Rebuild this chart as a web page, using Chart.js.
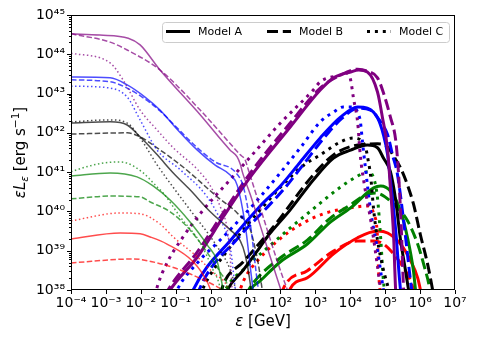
<!DOCTYPE html>
<html lang="en">
<head>
  <meta charset="UTF-8">
  <title>Spectra</title>
  <script src="https://cdn.jsdelivr.net/npm/chart.js"></script>
</head>
<style>
  html, body { margin: 0; padding: 0; background: #fff; }
  .chart-container { width: 478px; height: 342px; }
</style>
<body>
  <div class="chart-container">
    <canvas id="chartCanvas" width="478" height="342"></canvas>
  </div>

  <script>
    // decades shown on the axes
    const xDecades = [-4, -3, -2, -1, 0, 1, 2, 3, 4, 5, 6, 7];
    const yDecades = [38, 39, 40, 41, 42, 43, 44, 45];
    const modelLabels = ['Model A', 'Model B', 'Model C'];

    // curves as [log10 E/GeV, log10 eL/(erg/s)]
    // low energy part (thin lines)
    const purpleA_low = [[-4,44.52],[-3.17,44.49],[-2.36,44.41],[-2.02,44.24],[-1.45,43.60],[-0.30,42.46],[0.56,41.56],[0.76,41.39],[0.85,41.20],[0.91,41.0],[1.14,40.42],[1.57,39.22],[2.05,37.9]];
    const purpleB_low = [[-4,44.52],[-2.88,44.31],[-2.39,44.11],[-1.45,43.60],[-0.30,42.58],[0.85,41.44],[0.99,41.31],[1.08,41.06],[2.2,38.0],[2.25,37.9]];
    const purpleC_low = [[-4,44.03],[-2.88,43.78],[-2.51,43.35],[-2.02,42.58],[-1.53,42.07],[-1.07,41.62],[-0.38,41.07],[-0.01,40.65],[0.28,40.11],[0.48,39.53],[0.56,38.85],[0.62,37.9]];
    const blueA_low = [[-4,43.42],[-2.88,43.40],[-2.39,43.22],[-1.88,42.91],[-1.45,42.58],[-1.02,42.15],[-0.38,41.56],[0.13,41.18],[0.56,40.93],[0.76,40.67],[0.99,39.66],[1.22,38.0],[1.25,37.88]];
    const blueB_low = [[-4,43.35],[-2.88,43.30],[-2.39,43.14],[-1.88,42.86],[-1.45,42.56],[-1.02,42.18],[-0.38,41.62],[0.13,41.26],[0.71,41.0],[0.94,40.62],[1.14,39.66],[1.37,38.0],[1.40,37.88]];
    const blueC_low = [[-4,43.19],[-2.88,43.14],[-2.39,42.91],[-2.02,42.33],[-1.53,41.56],[-0.87,41.06],[-0.10,40.37],[0.28,39.78],[0.56,39.10],[0.71,38.0],[0.73,37.88]];
    const blackA_low = [[-4,42.25],[-2.88,42.28],[-2.39,42.20],[-2.02,41.90],[-1.53,41.44],[-1.07,40.98],[-0.59,40.55],[-0.01,39.99],[0.56,39.53],[0.85,39.25],[0.99,38.89],[1.14,38.13],[1.17,37.88]];
    const blackB_low = [[-4,41.97],[-2.39,42.0],[-2.02,41.90],[-1.65,41.69],[-0.79,41.13],[0.19,40.37],[0.76,39.96],[1.14,39.53],[1.22,39.27],[1.37,38.64],[1.48,38.0],[1.51,37.85]];
    const blackC_low = [[-4,42.28],[-2.88,42.33],[-2.39,42.25],[-2.02,41.87],[-1.53,41.18],[-1.02,40.55],[-0.59,40.04],[0.19,39.10],[0.56,38.51],[0.71,38.0],[0.73,37.85]];
    const greenA_low = [[-4,40.90],[-2.88,40.98],[-2.11,40.88],[-1.65,40.65],[-1.16,40.29],[-0.59,39.73],[-0.10,39.15],[0.19,38.72],[0.36,38.0],[0.39,37.85]];
    const greenB_low = [[-4,40.32],[-2.88,40.39],[-2.02,40.37],[-1.73,40.24],[-1.16,39.99],[-0.59,39.53],[-0.01,38.84],[0.28,38.44],[0.51,38.0],[0.53,37.85]];
    const greenC_low = [[-4,41.01],[-3.37,41.18],[-2.68,41.26],[-2.39,41.23],[-1.93,40.98],[-1.53,40.62],[-1.36,40.47],[-0.87,39.86],[-0.30,39.20],[0.07,38.51],[0.28,38.0],[0.30,37.85]];
    const redA_low = [[-4,39.30],[-2.59,39.45],[-2.02,39.43],[-1.73,39.35],[-1.25,39.17],[-0.50,38.72],[-0.10,38.21],[0.05,37.88]];
    const redB_low = [[-4,38.69],[-2.22,38.79],[-1.53,38.69],[-0.87,38.51],[-0.21,38.26],[0.19,38.08],[0.42,37.95],[0.51,37.85]];
    const redC_low = [[-4,39.76],[-2.59,39.96],[-2.02,39.94],[-1.45,39.68],[-1.07,39.35],[-0.38,38.84],[0.07,38.44],[0.48,38.08],[0.56,37.85]];

    // high energy part (thick lines)
    const purpleA_high = [[-1.25,37.85],[-1.16,38.0],[-0.38,38.84],[0.36,39.86],[1.14,40.88],[2.28,42.15],[3.14,43.09],[3.52,43.40],[4.01,43.55],[4.24,43.60],[4.49,43.55],[4.78,43.04],[4.92,42.40],[5.07,41.56],[5.15,40.6],[5.24,39.4],[5.30,38.0],[5.33,37.85]];
    const purpleB_high = [[-1.30,37.85],[-1.22,38.0],[-0.38,38.97],[0.36,39.96],[1.14,40.98],[2.28,42.25],[3.14,43.14],[3.72,43.47],[4.21,43.62],[4.49,43.57],[4.78,43.40],[4.95,43.02],[5.15,42.40],[5.30,41.82],[5.38,41.0],[5.46,39.6],[5.53,38.0],[5.56,37.85]];
    const purpleC_high = [[-1.59,37.85],[-1.53,38.08],[-1.25,38.69],[-0.79,39.35],[-0.21,40.04],[0.48,40.73],[1.14,41.39],[2.0,42.25],[2.94,43.09],[3.14,43.30],[3.72,43.47],[3.92,43.52],[4.01,43.35],[4.09,42.89],[4.21,42.28],[4.29,41.4],[4.40,40.7],[4.60,39.7],[4.78,38.6],[4.87,38.0],[4.90,37.85]];
    const blueA_high = [[-0.56,37.85],[-0.50,38.0],[0.65,39.35],[1.42,40.14],[2.0,40.65],[2.57,41.26],[3.14,41.87],[3.72,42.40],[4.21,42.66],[4.49,42.63],[4.78,42.38],[4.95,41.95],[5.07,41.44],[5.15,40.80],[5.30,39.53],[5.44,38.0],[5.47,37.85]];
    const blueB_high = [[-0.38,37.85],[-0.33,38.0],[0.79,39.33],[1.51,40.0],[2.08,40.55],[2.66,41.20],[3.20,41.82],[3.75,42.36],[4.24,42.63],[4.58,42.58],[4.87,42.28],[5.07,41.95],[5.21,41.44],[5.35,40.95],[5.55,39.6],[5.76,38.0],[5.79,37.85]];
    const blueC_high = [[-1.02,37.85],[-0.96,38.0],[-0.38,38.69],[0.36,39.35],[1.34,40.29],[2.57,41.62],[3.14,42.28],[3.52,42.53],[3.80,42.66],[4.09,42.66],[4.24,42.46],[4.29,42.28],[4.35,41.77],[4.44,41.06],[4.58,40.04],[4.78,39.02],[4.95,38.0],[4.98,37.85]];
    const blackA_high = [[0.42,37.85],[0.48,38.0],[0.94,38.51],[1.42,39.10],[1.62,39.35],[2.28,40.04],[2.94,40.80],[3.52,41.36],[4.01,41.56],[4.49,41.69],[4.78,41.62],[4.95,41.36],[5.15,41.01],[5.30,40.29],[5.44,39.27],[5.58,38.51],[5.67,38.0],[5.70,37.85]];
    const blackB_high = [[0.28,37.85],[0.36,38.13],[0.94,38.72],[1.80,39.61],[2.94,40.93],[3.52,41.44],[4.09,41.67],[4.78,41.72],[5.07,41.64],[5.24,41.41],[5.44,41.11],[5.64,40.67],[5.81,40.19],[6.01,39.40],[6.22,38.64],[6.36,38.0],[6.39,37.85]];
    const blackC_high = [[-0.30,37.85],[-0.24,38.0],[0.56,39.10],[1.42,40.04],[2.57,41.11],[3.14,41.44],[3.72,41.77],[4.09,41.87],[4.29,41.82],[4.44,41.62],[4.52,41.26],[4.58,40.93],[4.67,40.04],[4.78,39.27],[4.95,38.51],[5.10,38.0],[5.13,37.85]];
    const greenA_high = [[1.08,37.85],[1.14,38.0],[1.42,38.23],[2.0,38.72],[2.77,39.17],[3.43,39.73],[4.01,40.09],[4.67,40.60],[4.87,40.65],[5.15,40.52],[5.44,40.01],[5.64,39.33],[5.81,38.49],[5.87,38.0],[5.90,37.85]];
    const greenB_high = [[0.99,37.85],[1.22,38.18],[2.0,38.82],[2.77,39.27],[3.43,39.83],[4.01,40.17],[4.44,40.42],[4.72,40.47],[5.24,40.19],[5.64,39.76],[5.93,39.17],[6.12,38.6],[6.28,38.0],[6.30,37.85]];
    const greenC_high = [[0.36,37.85],[0.42,38.0],[0.99,38.56],[1.62,39.07],[2.28,39.58],[2.77,39.94],[3.72,40.62],[4.21,40.90],[4.49,41.01],[4.67,40.85],[4.78,40.34],[4.87,39.33],[4.95,38.23],[5.01,37.85]];
    const redA_high = [[2.23,37.85],[2.28,38.03],[2.77,38.31],[3.52,38.92],[4.21,39.33],[4.78,39.50],[5.07,39.45],[5.44,39.17],[5.73,38.74],[5.93,38.31],[6.01,38.0],[6.04,37.85]];
    const redB_high = [[2.03,37.85],[2.08,38.03],[2.77,38.49],[3.52,38.99],[4.21,39.25],[4.67,39.25],[4.95,39.17],[5.24,38.92],[5.53,38.56],[5.73,38.23],[5.81,38.0],[5.84,37.85]];
    const redC_high = [[0.79,37.85],[0.94,38.23],[1.42,38.82],[2.28,39.50],[3.23,39.94],[4.01,40.09],[4.49,40.14],[4.67,39.94],[4.78,39.33],[4.81,38.49],[4.87,37.85]];

    const colors = {
      purple: [128, 0, 128],
      blue: [0, 0, 255],
      black: [0, 0, 0],
      green: [0, 128, 0],
      red: [255, 0, 0]
    };
    const thinDash = { A: [], B: [5.5, 2.4], C: [1.5, 2.5] };
    const thickDash = { A: [], B: [11, 4.8], C: [3, 4.9] };

    const curves = {
      purple: { A: [purpleA_low, purpleA_high], B: [purpleB_low, purpleB_high], C: [purpleC_low, purpleC_high] },
      blue:   { A: [blueA_low, blueA_high],     B: [blueB_low, blueB_high],     C: [blueC_low, blueC_high] },
      black:  { A: [blackA_low, blackA_high],   B: [blackB_low, blackB_high],   C: [blackC_low, blackC_high] },
      green:  { A: [greenA_low, greenA_high],   B: [greenB_low, greenB_high],   C: [greenC_low, greenC_high] },
      red:    { A: [redA_low, redA_high],       B: [redB_low, redB_high],       C: [redC_low, redC_high] }
    };

    function pts(arr) {
      return arr.map(p => ({ x: Math.pow(10, p[0]), y: Math.pow(10, p[1]) }));
    }

    const datasets = [];
    // thin lines first, thick on top
    ['low', 'high'].forEach((part, k) => {
      Object.keys(curves).forEach(c => {
        ['A', 'B', 'C'].forEach(m => {
          const rgb = colors[c];
          datasets.push({
            data: pts(curves[c][m][k]),
            borderColor: part === 'low' ? `rgba(${rgb[0]},${rgb[1]},${rgb[2]},0.7)` : `rgb(${rgb[0]},${rgb[1]},${rgb[2]})`,
            borderWidth: part === 'low' ? 1.5 : 3,
            borderDash: part === 'low' ? thinDash[m] : thickDash[m],
            borderCapStyle: 'butt',
            showLine: true,
            pointRadius: 0,
            fill: false,
            cubicInterpolationMode: 'monotone',
            clip: 0
          });
        });
      });
    });

    const sup = { '0': '⁰', '1': '¹', '2': '²', '3': '³', '4': '⁴', '5': '⁵', '6': '⁶', '7': '⁷', '8': '⁸', '9': '⁹', '-': '⁻' };
    function powLabel(v) {
      const l = Math.log10(v);
      if (Math.abs(l - Math.round(l)) > 1e-6) return '';
      return '10' + String(Math.round(l)).split('').map(ch => sup[ch]).join('');
    }

    // draw a string made of pieces with own font and vertical shift
    function drawParts(ctx, parts, cx, baseY) {
      let total = 0;
      parts.forEach(p => { ctx.font = p.f; p.w = ctx.measureText(p.t).width; total += p.w; });
      let x = cx - total / 2;
      ctx.textBaseline = 'alphabetic';
      ctx.textAlign = 'left';
      parts.forEach(p => { ctx.font = p.f; ctx.fillText(p.t, x, baseY + (p.dy || 0)); x += p.w; });
    }

    const decor = {
      id: 'decor',
      afterDraw(chart) {
        const { ctx, chartArea: a } = chart;
        const xs = chart.scales.x, ys = chart.scales.y;
        ctx.save();
        ctx.strokeStyle = '#000';
        ctx.fillStyle = '#000';
        ctx.lineWidth = 1;
        ctx.setLineDash([]);

        // ticks
        ctx.beginPath();
        xDecades.forEach(d => {
          const px = Math.round(xs.getPixelForValue(Math.pow(10, d))) + 0.5;
          ctx.moveTo(px, a.bottom); ctx.lineTo(px, a.bottom + 4);
        });
        yDecades.forEach(d => {
          const py = Math.round(ys.getPixelForValue(Math.pow(10, d))) + 0.5;
          ctx.moveTo(a.left, py); ctx.lineTo(a.left - 4, py);
          if (d < 45) {
            for (let k = 2; k <= 9; k++) {
              const pm = Math.round(ys.getPixelForValue(k * Math.pow(10, d))) + 0.5;
              ctx.moveTo(a.left, pm); ctx.lineTo(a.left - 2, pm);
            }
          }
        });
        ctx.stroke();
        ctx.strokeRect(a.left + 0.5, a.top + 0.5, a.right - a.left - 1, a.bottom - a.top - 1);

        // axis titles
        drawParts(ctx, [
          { t: 'ε', f: 'italic 15px "DejaVu Sans"' },
          { t: ' [GeV]', f: '15px "DejaVu Sans"' }
        ], (a.left + a.right) / 2, 326);

        ctx.save();
        ctx.translate(25, (a.top + a.bottom) / 2);
        ctx.rotate(-Math.PI / 2);
        drawParts(ctx, [
          { t: 'εL', f: 'italic 15px "DejaVu Sans"' },
          { t: 'ε', f: 'italic 10.5px "DejaVu Sans"', dy: 3 },
          { t: ' [erg s', f: '15px "DejaVu Sans"' },
          { t: '−1', f: '10.5px "DejaVu Sans"', dy: -6 },
          { t: ']', f: '15px "DejaVu Sans"' }
        ], 0, 0);
        ctx.restore();

        // legend box
        const bx = 162, by = 22, bw = 287, bh = 20;
        ctx.beginPath();
        ctx.roundRect(bx + 0.5, by + 0.5, bw, bh, 3);
        ctx.fillStyle = 'rgba(255,255,255,0.8)';
        ctx.fill();
        ctx.strokeStyle = '#cccccc';
        ctx.stroke();

        const lx = [166, 267, 367];
        const dashes = [thickDash.A, thickDash.B, thickDash.C];
        ctx.strokeStyle = '#000';
        ctx.fillStyle = '#000';
        ctx.lineWidth = 3;
        ctx.lineCap = 'butt';
        modelLabels.forEach((lab, i) => {
          ctx.setLineDash(dashes[i]);
          ctx.beginPath();
          ctx.moveTo(lx[i], 31.5); ctx.lineTo(lx[i] + 24, 31.5);
          ctx.stroke();
          ctx.font = '11px "DejaVu Sans"';
          ctx.textBaseline = 'middle';
          ctx.textAlign = 'left';
          ctx.fillText(lab, lx[i] + 32, 32);
        });
        ctx.restore();
      }
    };

    const tickFont = { family: 'DejaVu Sans', size: 14 };

    const ctx = document.getElementById('chartCanvas').getContext('2d');
    const chart = new Chart(ctx, {
      type: 'scatter',
      data: { datasets: datasets },
      options: {
        responsive: false,
        animation: false,
        layout: { padding: { top: 15, right: 23, left: 0, bottom: 0 } },
        plugins: { legend: { display: false }, tooltip: { enabled: false } },
        scales: {
          x: {
            type: 'logarithmic',
            min: 1e-4,
            max: 1e7,
            grid: { display: false, drawTicks: false },
            border: { display: false },
            ticks: { autoSkip: false, maxRotation: 0, minRotation: 0, padding: 5, color: '#000', font: tickFont, callback: v => powLabel(v) },
            afterFit: s => { s.height = 52; }
          },
          y: {
            type: 'logarithmic',
            min: 1e38,
            max: 1e45,
            grid: { display: false, drawTicks: false },
            border: { display: false },
            ticks: { autoSkip: false, padding: 6, color: '#000', font: tickFont, callback: v => powLabel(v) },
            afterFit: s => { s.width = 71; }
          }
        }
      },
      plugins: [decor]
    });
  </script>
</body>
</html>
